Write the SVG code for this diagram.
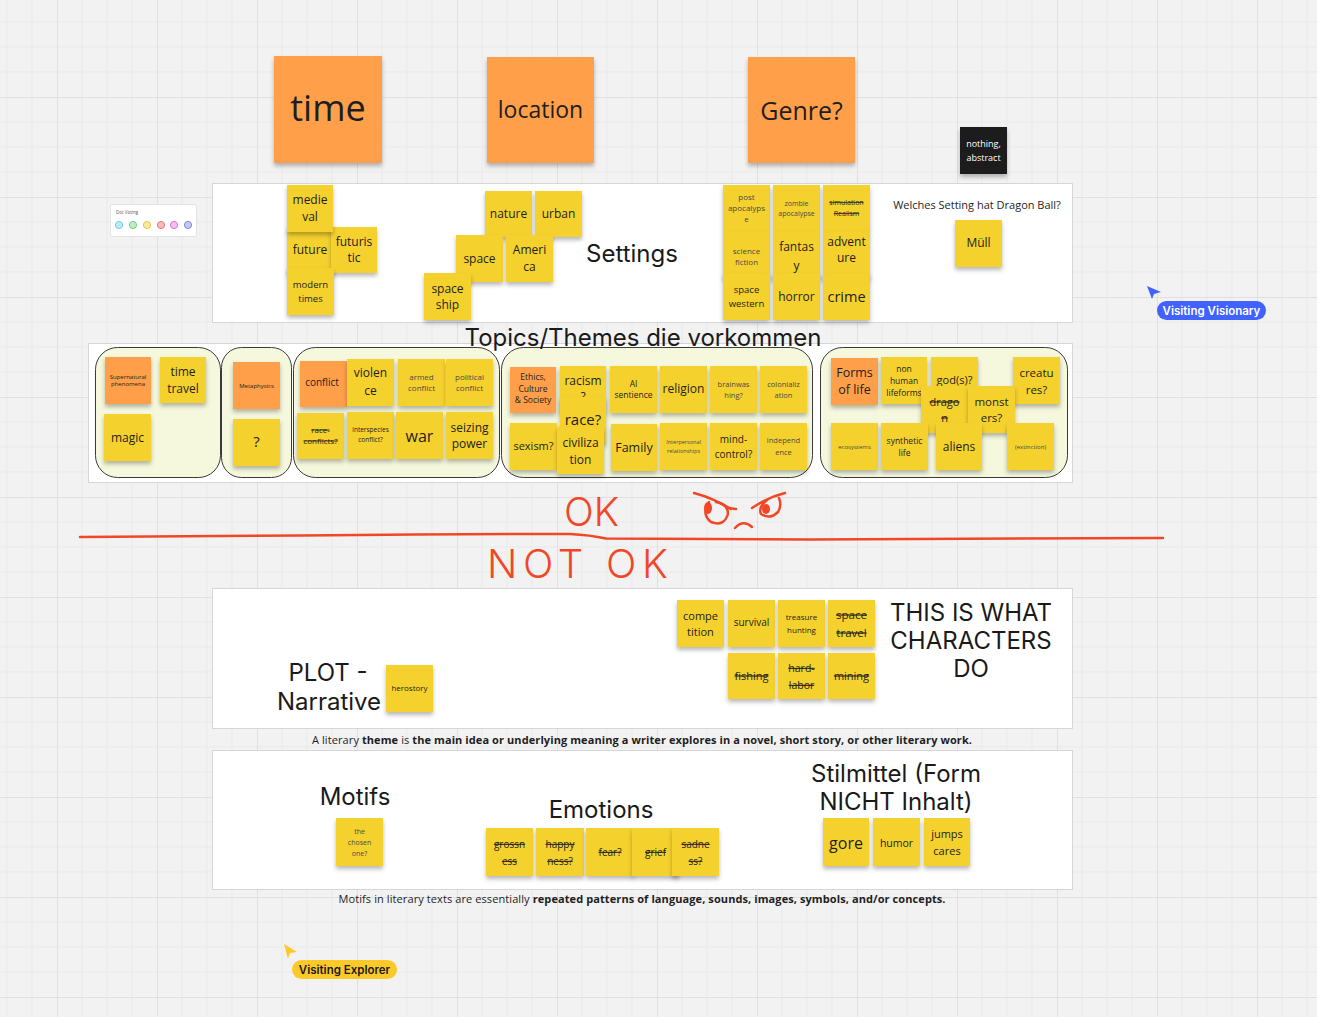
<svg xmlns="http://www.w3.org/2000/svg" width="1317" height="1017" viewBox="0 0 1317 1017">
<defs>
<pattern id="grid" width="100" height="100" patternUnits="userSpaceOnUse" x="57" y="97">
<path d="M25 0V100M50 0V100M75 0V100M0 25H100M0 50H100M0 75H100" stroke="#e9e9e9" stroke-width="1" fill="none"/>
<path d="M0.5 0V100M0 0.5H100" stroke="#e0e0e0" stroke-width="1" fill="none"/>
</pattern>
<filter id="sh" x="-15%" y="-15%" width="130%" height="150%">
<feDropShadow dx="0" dy="3" stdDeviation="2" flood-color="#000" flood-opacity="0.28"/>
</filter>
<style>
.note rect{filter:url(#sh)}
.y{fill:#f5d12e}
.o{fill:#ff9f4a}
.k{fill:#1a1a1a}
.t{font-family:"Open Sans","Noto Sans",sans-serif;fill:#1e1e1e;text-anchor:middle}
.g{fill:#4a4a4a}
.s{text-decoration:line-through}
.h{font-family:Inter,"Noto Sans",sans-serif;fill:#1a1a1a;text-anchor:middle;font-size:24px}
.frame{fill:#fff;stroke:#d6d6d6;stroke-width:1}
.grp{fill:#f5f8dd;stroke:#3a3a3a;stroke-width:1}
.ink{fill:none;stroke:#f24726;stroke-width:2.5;stroke-linecap:round;stroke-linejoin:round}
.inkt{font-family:Inter,"Liberation Sans",sans-serif;font-weight:300;fill:#f24726;font-size:40px}
.body{font-family:"Open Sans","Noto Sans",sans-serif;fill:#1e1e1e;font-size:11px;text-anchor:middle}
</style>
</defs>
<rect width="1317" height="1017" fill="#f2f2f2"/>
<rect width="1317" height="1017" fill="url(#grid)"/>

<!-- frames -->
<g id="frames">
<rect id="frame-settings" class="frame" x="212.5" y="183.5" width="860" height="139"/>
<rect id="frame-topics" class="frame" x="88.5" y="343.5" width="984" height="139"/>
<rect id="frame-plot" class="frame" x="212.5" y="588.5" width="860" height="140"/>
<rect id="frame-motifs" class="frame" x="212.5" y="750.5" width="860" height="139"/>
</g>

<!-- connectors (none) -->
<g id="connectors"></g>

<!-- big header notes -->
<g id="n-time" class="note"><rect class="o" x="274" y="56" width="108" height="107"/><text class="t" font-size="36" x="328" y="121">time</text></g>
<g id="n-location" class="note"><rect class="o" x="487" y="57" width="107" height="106"/><text class="t" font-size="23" x="540.5" y="118">location</text></g>
<g id="n-genre" class="note"><rect class="o" x="748" y="57" width="107" height="106"/><text class="t" font-size="25" x="801.5" y="120">Genre?</text></g>
<g id="n-nothing" class="note"><rect class="k" x="960" y="127" width="47" height="47"/><text class="t" font-size="9" style="fill:#fff"><tspan x="983.5" y="147">nothing,</tspan><tspan x="983.5" y="161">abstract</tspan></text></g>

<!-- dot voting -->
<g id="dot-voting">
<rect x="110.5" y="204.5" width="86" height="32" rx="2" fill="#fff" stroke="#e3e3e3"/>
<text x="116" y="214" font-family="'Open Sans',sans-serif" font-size="4.5" fill="#555">Dot Voting</text>
<circle cx="119" cy="225" r="3.6" fill="#bfe9f7" stroke="#5cc3e8" stroke-width="0.8"/>
<circle cx="133" cy="225" r="3.6" fill="#bdeec5" stroke="#56c46a" stroke-width="0.8"/>
<circle cx="147" cy="225" r="3.6" fill="#faeaa0" stroke="#dcbc2c" stroke-width="0.8"/>
<circle cx="161" cy="225" r="3.6" fill="#f7b9b9" stroke="#e26262" stroke-width="0.8"/>
<circle cx="174" cy="225" r="3.6" fill="#f5bdf3" stroke="#d65ad2" stroke-width="0.8"/>
<circle cx="188" cy="225" r="3.6" fill="#c7c7f8" stroke="#6d6de6" stroke-width="0.8"/>
</g>

<!-- Settings -->
<g id="n-future" class="note"><rect class="y" x="287" y="227" width="46" height="46"/><text class="t" font-size="12" x="310" y="254">future</text></g>
<g id="n-futuristic" class="note"><rect class="y" x="331" y="227" width="46" height="46"/><text class="t" font-size="12"><tspan x="354" y="246">futuris</tspan><tspan x="354" y="262">tic</tspan></text></g>
<g id="n-medieval" class="note"><rect class="y" x="287" y="185" width="46" height="47"/><text class="t" font-size="12"><tspan x="310" y="204">medie</tspan><tspan x="310" y="221">val</tspan></text></g>
<g id="n-modern" class="note"><rect class="y" x="287" y="268" width="47" height="47"/><text class="t" font-size="9.5"><tspan x="310.5" y="288">modern</tspan><tspan x="310.5" y="302">times</tspan></text></g>
<g id="n-nature" class="note"><rect class="y" x="485" y="191" width="47" height="46"/><text class="t" font-size="12" x="508.5" y="218">nature</text></g>
<g id="n-urban" class="note"><rect class="y" x="535" y="191" width="47" height="46"/><text class="t" font-size="12" x="558.5" y="218">urban</text></g>
<g id="n-space" class="note"><rect class="y" x="456" y="235" width="47" height="47"/><text class="t" font-size="12" x="479.5" y="263">space</text></g>
<g id="n-america" class="note"><rect class="y" x="506" y="235" width="47" height="47"/><text class="t" font-size="12"><tspan x="529.5" y="254">Ameri</tspan><tspan x="529.5" y="271">ca</tspan></text></g>
<g id="n-spaceship" class="note"><rect class="y" x="424" y="273" width="47" height="47"/><text class="t" font-size="12"><tspan x="447.5" y="293">space</tspan><tspan x="447.5" y="309">ship</tspan></text></g>
<text id="t-settings" class="h" x="632" y="262">Settings</text>
<g id="n-postapoc" class="note"><rect class="y" x="723" y="185" width="47" height="47"/><text class="t g" font-size="8"><tspan x="746.5" y="200">post</tspan><tspan x="746.5" y="211">apocalyps</tspan><tspan x="746.5" y="222">e</tspan></text></g>
<g id="n-zombie" class="note"><rect class="y" x="773" y="185" width="47" height="47"/><text class="t g" font-size="7"><tspan x="796.5" y="206">zombie</tspan><tspan x="796.5" y="216">apocalypse</tspan></text></g>
<g id="n-simulation" class="note"><rect class="y" x="823" y="185" width="47" height="47"/><text class="t s" font-size="7"><tspan x="846.5" y="205">simulation</tspan><tspan x="846.5" y="216">Realism</tspan></text></g>
<g id="n-scifi" class="note"><rect class="y" x="723" y="232" width="47" height="47"/><text class="t g" font-size="8"><tspan x="746.5" y="254">science</tspan><tspan x="746.5" y="265">fiction</tspan></text></g>
<g id="n-fantasy" class="note"><rect class="y" x="773" y="232" width="47" height="47"/><text class="t" font-size="12"><tspan x="796.5" y="251">fantas</tspan><tspan x="796.5" y="270">y</tspan></text></g>
<g id="n-adventure" class="note"><rect class="y" x="823" y="232" width="47" height="47"/><text class="t" font-size="12"><tspan x="846.5" y="246">advent</tspan><tspan x="846.5" y="262">ure</tspan></text></g>
<g id="n-spacewestern" class="note"><rect class="y" x="723" y="273" width="47" height="47"/><text class="t" font-size="9.5"><tspan x="746.5" y="293">space</tspan><tspan x="746.5" y="307">western</tspan></text></g>
<g id="n-horror" class="note"><rect class="y" x="773" y="273" width="47" height="47"/><text class="t" font-size="12" x="796.5" y="301">horror</text></g>
<g id="n-crime" class="note"><rect class="y" x="823" y="273" width="47" height="47"/><text class="t" font-size="14.5" x="846.5" y="302">crime</text></g>
<text id="t-dragonball" class="t" font-size="11" x="977" y="209">Welches Setting hat Dragon Ball?</text>
<g id="n-muell" class="note"><rect class="y" x="955" y="220" width="47" height="47"/><text class="t" font-size="12" x="978.5" y="247">Müll</text></g>

<!-- Topics groups -->
<g id="groups">
<rect id="grp-1" class="grp" x="95.5" y="347.5" width="125" height="130" rx="22"/>
<rect id="grp-2" class="grp" x="221.5" y="347.5" width="70" height="130" rx="20"/>
<rect id="grp-3" class="grp" x="293.5" y="347.5" width="206" height="130" rx="22"/>
<rect id="grp-4" class="grp" x="501.5" y="347.5" width="311" height="130" rx="22"/>
<rect id="grp-5" class="grp" x="820.5" y="347.5" width="247" height="130" rx="22"/>
</g>
<text id="t-topics" class="h" x="643" y="346">Topics/Themes die vorkommen</text>

<g id="n-supernatural" class="note"><rect class="o" x="105" y="357" width="46" height="47"/><text class="t" font-size="6"><tspan x="128" y="379">Supernatural</tspan><tspan x="128" y="386">phenomena</tspan></text></g>
<g id="n-timetravel" class="note"><rect class="y" x="160" y="357" width="46" height="46"/><text class="t" font-size="12"><tspan x="183" y="376">time</tspan><tspan x="183" y="393">travel</tspan></text></g>
<g id="n-magic" class="note"><rect class="y" x="104" y="414" width="47" height="47"/><text class="t" font-size="12" x="127.5" y="442">magic</text></g>
<g id="n-metaphysics" class="note"><rect class="o" x="233" y="362" width="47" height="47"/><text class="t" font-size="6" x="256.5" y="388">Metaphysics</text></g>
<g id="n-question" class="note"><rect class="y" x="233" y="419" width="47" height="47"/><text class="t" font-size="15" x="256.5" y="447">?</text></g>
<g id="n-conflict" class="note"><rect class="o" x="300" y="361" width="47" height="46"/><text class="t" font-size="10" x="322" y="386">conflict</text></g>
<g id="n-violence" class="note"><rect class="y" x="347" y="359" width="47" height="47"/><text class="t" font-size="12"><tspan x="370.5" y="377">violen</tspan><tspan x="370.5" y="395">ce</tspan></text></g>
<g id="n-armed" class="note"><rect class="y" x="398" y="359" width="47" height="47"/><text class="t g" font-size="8"><tspan x="421.5" y="380">armed</tspan><tspan x="421.5" y="391">conflict</tspan></text></g>
<g id="n-political" class="note"><rect class="y" x="446" y="359" width="47" height="47"/><text class="t g" font-size="8"><tspan x="469.5" y="380">political</tspan><tspan x="469.5" y="391">conflict</tspan></text></g>
<g id="n-race-conflicts" class="note"><rect class="y" x="297" y="413" width="47" height="46"/><text class="t s" font-size="8"><tspan x="320.5" y="433">race-</tspan><tspan x="320.5" y="444">conflicts?</tspan></text></g>
<g id="n-interspecies" class="note"><rect class="y" x="347" y="412" width="47" height="47"/><text class="t" font-size="6.5"><tspan x="370.5" y="432">interspecies</tspan><tspan x="370.5" y="442">conflict?</tspan></text></g>
<g id="n-war" class="note"><rect class="y" x="396" y="412" width="47" height="47"/><text class="t" font-size="16" x="419.5" y="442">war</text></g>
<g id="n-seizing" class="note"><rect class="y" x="446" y="412" width="47" height="47"/><text class="t" font-size="12"><tspan x="469.5" y="432">seizing</tspan><tspan x="469.5" y="448">power</tspan></text></g>

<g id="n-ethics" class="note"><rect class="o" x="510" y="367" width="46" height="46"/><text class="t" font-size="8.5"><tspan x="533" y="380">Ethics,</tspan><tspan x="533" y="392">Culture</tspan><tspan x="533" y="403">&amp; Society</tspan></text></g>
<g id="n-racism" class="note"><rect class="y" x="560" y="366" width="46" height="47"/><text class="t" font-size="12"><tspan x="583" y="385">racism</tspan><tspan x="583" y="401">?</tspan></text></g>
<g id="n-ai" class="note"><rect class="y" x="610" y="366" width="47" height="47"/><text class="t" font-size="8.5"><tspan x="633.5" y="387">AI</tspan><tspan x="633.5" y="398">sentience</tspan></text></g>
<g id="n-religion" class="note"><rect class="y" x="660" y="366" width="47" height="47"/><text class="t" font-size="12" x="683.5" y="393">religion</text></g>
<g id="n-brainwashing" class="note"><rect class="y" x="710" y="366" width="47" height="47"/><text class="t g" font-size="7.5"><tspan x="733.5" y="387">brainwas</tspan><tspan x="733.5" y="398">hing?</tspan></text></g>
<g id="n-colonialization" class="note"><rect class="y" x="760" y="366" width="47" height="47"/><text class="t g" font-size="7.5"><tspan x="783.5" y="387">colonializ</tspan><tspan x="783.5" y="398">ation</tspan></text></g>
<g id="n-race" class="note"><rect class="y" x="560" y="397" width="46" height="47"/><text class="t" font-size="15" x="583" y="425">race?</text></g>
<g id="n-sexism" class="note"><rect class="y" x="510" y="423" width="47" height="47"/><text class="t" font-size="11" x="533.5" y="450">sexism?</text></g>
<g id="n-civilization" class="note"><rect class="y" x="557" y="427" width="47" height="47"/><text class="t" font-size="12"><tspan x="580.5" y="447">civiliza</tspan><tspan x="580.5" y="464">tion</tspan></text></g>
<g id="n-family" class="note"><rect class="y" x="611" y="424" width="46" height="47"/><text class="t" font-size="12.5" x="634" y="452">Family</text></g>
<g id="n-interpersonal" class="note"><rect class="y" x="660" y="423" width="47" height="47"/><text class="t g" font-size="5.5"><tspan x="683.5" y="444">Interpersonal</tspan><tspan x="683.5" y="453">relationships</tspan></text></g>
<g id="n-mindcontrol" class="note"><rect class="y" x="710" y="423" width="47" height="47"/><text class="t" font-size="10"><tspan x="733.5" y="443">mind-</tspan><tspan x="733.5" y="458">control?</tspan></text></g>
<g id="n-independence" class="note"><rect class="y" x="760" y="423" width="47" height="47"/><text class="t g" font-size="7.5"><tspan x="783.5" y="443">independ</tspan><tspan x="783.5" y="455">ence</tspan></text></g>

<g id="n-forms" class="note"><rect class="o" x="831" y="358" width="47" height="47"/><text class="t" font-size="12.5"><tspan x="854.5" y="377">Forms</tspan><tspan x="854.5" y="394">of life</tspan></text></g>
<g id="n-nonhuman" class="note"><rect class="y" x="881" y="357" width="46" height="47"/><text class="t" font-size="8.5"><tspan x="904" y="372">non</tspan><tspan x="904" y="384">human</tspan><tspan x="904" y="396">lifeforms</tspan></text></g>
<g id="n-gods" class="note"><rect class="y" x="931" y="357" width="47" height="47"/><text class="t" font-size="11" x="954.5" y="384">god(s)?</text></g>
<g id="n-creatures" class="note"><rect class="y" x="1013" y="357" width="47" height="47"/><text class="t" font-size="11.5"><tspan x="1036.5" y="377">creatu</tspan><tspan x="1036.5" y="394">res?</tspan></text></g>
<g id="n-dragon" class="note"><rect class="y" x="921" y="386" width="47" height="47"/><text class="t s" font-size="11"><tspan x="944.5" y="406">drago</tspan><tspan x="944.5" y="422">n</tspan></text></g>
<g id="n-monsters" class="note"><rect class="y" x="968" y="386" width="47" height="47"/><text class="t" font-size="11.5"><tspan x="991.5" y="406">monst</tspan><tspan x="991.5" y="422">ers?</tspan></text></g>
<g id="n-ecosystems" class="note"><rect class="y" x="831" y="423" width="47" height="47"/><text class="t g" font-size="6" x="854.5" y="449">ecosystems</text></g>
<g id="n-synthetic" class="note"><rect class="y" x="881" y="423" width="47" height="47"/><text class="t" font-size="8.5"><tspan x="904.5" y="444">synthetic</tspan><tspan x="904.5" y="456">life</tspan></text></g>
<g id="n-aliens" class="note"><rect class="y" x="936" y="423" width="46" height="47"/><text class="t" font-size="12" x="959" y="451">aliens</text></g>
<g id="n-extinction" class="note"><rect class="y" x="1007" y="423" width="47" height="47"/><text class="t g" font-size="6" x="1030.5" y="449">(extinction)</text></g>

<!-- ink drawing -->
<g id="ink">
<path class="ink" d="M80,537 L300,535.5 Q470,533.5 570,534 Q590,535 606,538.5 L810,539.5 L1163,538"/>
<text class="inkt" x="564" y="526" textLength="55" lengthAdjust="spacingAndGlyphs">OK</text>
<text class="inkt" x="487" y="578" textLength="181" lengthAdjust="spacing">NOT OK</text>
<path class="ink" d="M694,493 Q713,498 731,509"/>
<path class="ink" d="M709,502 Q701,514 711,522 Q724,527 728,514 Q728,504 716,502"/>
<ellipse cx="708" cy="508" rx="4" ry="6" fill="#f24726"/>
<path class="ink" d="M728,508 L736,509"/>
<path class="ink" d="M735,528 Q743,519 752,527"/>
<path class="ink" d="M752,508 Q768,497 785,493"/>
<path class="ink" d="M767,500 Q758,507 761,514 Q770,520 778,512 Q782,505 779,498"/>
<ellipse cx="766" cy="509" rx="4" ry="5" fill="#f24726"/>
</g>

<!-- Plot -->
<text id="t-plot" class="h"><tspan x="328" y="681">PLOT -</tspan><tspan x="329" y="710">Narrative</tspan></text>
<g id="n-herostory" class="note"><rect class="y" x="386" y="665" width="47" height="47"/><text class="t" font-size="8" x="409.5" y="691">herostory</text></g>
<g id="n-competition" class="note"><rect class="y" x="677" y="600" width="47" height="47"/><text class="t" font-size="11"><tspan x="700.5" y="620">compe</tspan><tspan x="700.5" y="636">tition</tspan></text></g>
<g id="n-survival" class="note"><rect class="y" x="728" y="600" width="47" height="47"/><text class="t" font-size="10" x="751.5" y="626">survival</text></g>
<g id="n-treasure" class="note"><rect class="y" x="778" y="600" width="47" height="47"/><text class="t" font-size="8"><tspan x="801.5" y="620">treasure</tspan><tspan x="801.5" y="633">hunting</tspan></text></g>
<g id="n-spacetravel" class="note"><rect class="y" x="828" y="600" width="47" height="47"/><text class="t s" font-size="11.5"><tspan x="851.5" y="619">space</tspan><tspan x="851.5" y="637">travel</tspan></text></g>
<g id="n-fishing" class="note"><rect class="y" x="728" y="653" width="47" height="46"/><text class="t s" font-size="11" x="751.5" y="680">fishing</text></g>
<g id="n-hardlabor" class="note"><rect class="y" x="778" y="653" width="47" height="46"/><text class="t s" font-size="10.5"><tspan x="801.5" y="672">hard-</tspan><tspan x="801.5" y="689">labor</tspan></text></g>
<g id="n-mining" class="note"><rect class="y" x="828" y="653" width="47" height="46"/><text class="t s" font-size="11" x="851.5" y="680">mining</text></g>
<text id="t-characters" class="h"><tspan x="971" y="621">THIS IS WHAT</tspan><tspan x="971" y="649">CHARACTERS</tspan><tspan x="971" y="677">DO</tspan></text>

<text id="t-theme-def" class="body" x="642" y="744" textLength="660" lengthAdjust="spacing">A literary <tspan font-weight="700">theme</tspan> is <tspan font-weight="700">the main idea or underlying meaning a writer explores in a novel, short story, or other literary work.</tspan></text>

<!-- Motifs -->
<text id="t-motifs" class="h" x="355" y="805">Motifs</text>
<g id="n-chosen" class="note"><rect class="y" x="336" y="818" width="47" height="48"/><text class="t g" font-size="7"><tspan x="359.5" y="834">the</tspan><tspan x="359.5" y="845">chosen</tspan><tspan x="359.5" y="856">one?</tspan></text></g>
<text id="t-emotions" class="h" x="601" y="818">Emotions</text>
<g id="n-grossness" class="note"><rect class="y" x="486" y="828" width="47" height="48"/><text class="t s" font-size="10"><tspan x="509.5" y="848">grossn</tspan><tspan x="509.5" y="865">ess</tspan></text></g>
<g id="n-happiness" class="note"><rect class="y" x="536" y="828" width="48" height="48"/><text class="t s" font-size="10"><tspan x="560" y="848">happy</tspan><tspan x="560" y="865">ness?</tspan></text></g>
<g id="n-fear" class="note"><rect class="y" x="586" y="828" width="48" height="48"/><text class="t s" font-size="10" x="610" y="856">fear?</text></g>
<g id="n-grief" class="note"><rect class="y" x="632" y="828" width="47" height="48"/><text class="t s" font-size="10" x="655.5" y="856">grief</text></g>
<g id="n-sadness" class="note"><rect class="y" x="672" y="828" width="47" height="48"/><text class="t s" font-size="10"><tspan x="695.5" y="848">sadne</tspan><tspan x="695.5" y="865">ss?</tspan></text></g>
<text id="t-stilmittel" class="h"><tspan x="896" y="782">Stilmittel (Form</tspan><tspan x="896" y="810">NICHT Inhalt)</tspan></text>
<g id="n-gore" class="note"><rect class="y" x="823" y="818" width="46" height="48"/><text class="t" font-size="16" x="846" y="849">gore</text></g>
<g id="n-humor" class="note"><rect class="y" x="873" y="818" width="47" height="48"/><text class="t" font-size="10.5" x="896.5" y="847">humor</text></g>
<g id="n-jumpscares" class="note"><rect class="y" x="924" y="818" width="46" height="48"/><text class="t" font-size="11"><tspan x="947" y="838">jumps</tspan><tspan x="947" y="855">cares</tspan></text></g>

<text id="t-motif-def" class="body" x="642" y="903" textLength="607" lengthAdjust="spacing">Motifs in literary texts are essentially <tspan font-weight="700">repeated patterns of language, sounds, images, symbols, and/or concepts.</tspan></text>

<!-- cursors -->
<g id="cursor-visionary">
<polygon points="1147,286 1161,292 1154,294 1152,299" fill="#4262ff"/>
<rect x="1157" y="301" width="109" height="19" rx="9.5" fill="#4262ff"/>
<text x="1211.5" y="315" font-family="Inter,'Noto Sans',sans-serif" font-size="11.5" font-weight="600" fill="#fff" text-anchor="middle">Visiting Visionary</text>
</g>
<g id="cursor-explorer">
<polygon points="284,944 297,952 290,953 288,959" fill="#fcc92a"/>
<rect x="292" y="960" width="105" height="19" rx="9.5" fill="#fcc92a"/>
<text x="344.5" y="974" font-family="Inter,'Noto Sans',sans-serif" font-size="11.5" font-weight="600" fill="#1a1a1a" text-anchor="middle">Visiting Explorer</text>
</g>
</svg>
